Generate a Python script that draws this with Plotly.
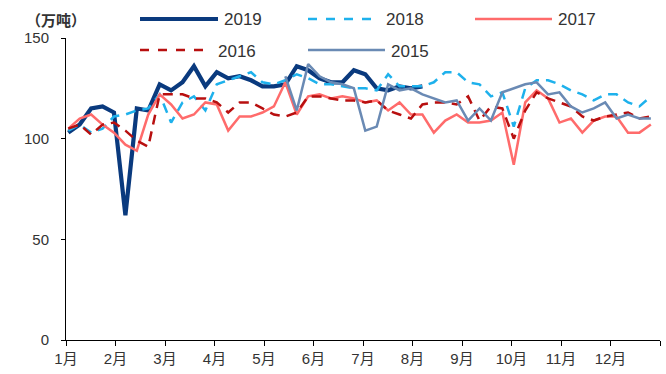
import plotly.graph_objects as go

# Weekly volumes (万吨), one value per week of the year
weeks = list(range(52))

y2019 = [103, 107, 115, 116, 113, 62, 115, 114, 127, 124, 128, 136, 126, 133, 130, 131,
         129, 126, 126, 127, 136, 134, 130, 128, 128, 134, 132, 125, 124, 126, 125, 126]

y2018 = [104, 107, 103, 105, 111, 112, 114, 115, 122, 108, 118, 121, 114, 127, 129, 131,
         133, 128, 127, 129, 132, 130, 127, 127, 126, 125, 125, 124, 132, 126, 126, 126,
         128, 133, 133, 128, 127, 121, 123, 106, 125, 129, 129, 127, 124, 122, 119, 122,
         122, 118, 116, 121]

y2017 = [105, 110, 112, 107, 103, 97, 94, 112, 122, 117, 110, 112, 118, 117, 104, 111,
         111, 113, 116, 128, 112, 121, 122, 120, 121, 120, 118, 119, 114, 118, 112, 112,
         103, 109, 112, 108, 108, 109, 113, 87, 118, 124, 120, 108, 110, 103, 109, 111,
         111, 103, 103, 107]

y2016 = [105, 107, 102, 107, 108, 104, 99, 96, 122, 122, 122, 120, 120, 118, 113, 118,
         118, 115, 112, 111, 113, 121, 121, 120, 119, 119, 118, 119, 114, 112, 110, 117,
         118, 118, 117, 121, 109, 116, 115, 100, 114, 123, 120, 118, 116, 111, 109, 111,
         112, 113, 110, 111]

# 2015 series starts in week 20
start2015 = 19
y2015 = [131, 114, 137, 131, 128, 127, 125, 104, 106, 127, 124, 125, 122, 120, 118, 119,
         109, 115, 109, 123, 125, 127, 128, 122, 123, 116, 113, 115, 118, 110, 112, 110, 110]

month_labels = ["1月", "2月", "3月", "4月", "5月", "6月", "7月", "8月", "9月", "10月", "11月", "12月", ""]
y_ticks = [0, 50, 100, 150]

FONT = "Liberation Sans, Noto Sans CJK SC, sans-serif"

series = [
    ("2019", weeks[:len(y2019)], y2019, "#0A3A7E", 4.2, "solid"),
    ("2018", weeks, y2018, "#1EB1EC", 2.5, "10px,7px"),
    ("2017", weeks, y2017, "#FF6B6B", 2.5, "solid"),
    ("2016", weeks, y2016, "#B80F0F", 2.5, "10px,7px"),
    ("2015", weeks[start2015:start2015 + len(y2015)], y2015, "#6A8AB4", 2.5, "solid"),
]

fig = go.Figure()
for name, xs, ys, color, width, dash in series:
    fig.add_trace(go.Scatter(
        x=xs, y=ys, mode="lines", name=name,
        line=dict(color=color, width=width, dash=dash),
        showlegend=False,
    ))

# Legend drawn as line samples plus labels above/inside the plot top
L, R, T, B = 66, 6, 38, 34
W, H = 666 - L - R, 374 - T - B


def px(xp):
    return (xp - L) / W


def py(yp):
    return (374 - B - yp) / H


legend_items = [
    ("2019", 140, 218, 19, "#0A3A7E", 4.2, "solid"),
    ("2018", 308, 380, 19, "#1EB1EC", 2.5, "dash"),
    ("2017", 475, 552, 19, "#FF6B6B", 2.5, "solid"),
    ("2016", 140, 212, 50, "#B80F0F", 2.5, "dash"),
    ("2015", 308, 385, 50, "#6A8AB4", 2.5, "solid"),
]
for name, x0, x1, yy, color, width, dash in legend_items:
    fig.add_shape(type="line", xref="paper", yref="paper",
                  x0=px(x0), x1=px(x1), y0=py(yy), y1=py(yy),
                  line=dict(color=color, width=width, dash=dash))
    fig.add_annotation(xref="paper", yref="paper", x=px(x1 + 4), y=py(yy + 1),
                       text=name, showarrow=False, xanchor="left", yanchor="middle",
                       font=dict(family=FONT, size=17, color="#333333"))

fig.add_annotation(xref="paper", yref="paper", x=px(24), y=py(20),
                   text="<b>（万吨）</b>", showarrow=False, xanchor="left", yanchor="middle",
                   font=dict(family="Noto Sans CJK SC, sans-serif", size=15, color="#333333"))

month_ticks = [m * 52 / 12 - 0.2 for m in range(13)]

fig.update_layout(
    width=666, height=374,
    margin=dict(l=L, r=R, t=T, b=B),
    paper_bgcolor="white", plot_bgcolor="white",
    font=dict(family=FONT, size=15, color="#333333"),
    xaxis=dict(
        range=[-0.2, 51.8], tickmode="array", tickvals=month_ticks, ticktext=month_labels,
        showgrid=False, zeroline=False, showline=True, linecolor="#000000", linewidth=1,
        ticks="outside", ticklen=5, tickcolor="#000000",
        tickfont=dict(family=FONT, size=15, color="#333333"),
    ),
    yaxis=dict(
        range=[0, 150], tickmode="array", tickvals=y_ticks,
        showgrid=False, zeroline=False, showline=True, linecolor="#000000", linewidth=1,
        ticks="outside", ticklen=4, tickcolor="#000000",
        ticklabelstandoff=9,
        tickfont=dict(family=FONT, size=15, color="#333333"),
    ),
)

fig.write_html("out.html")
